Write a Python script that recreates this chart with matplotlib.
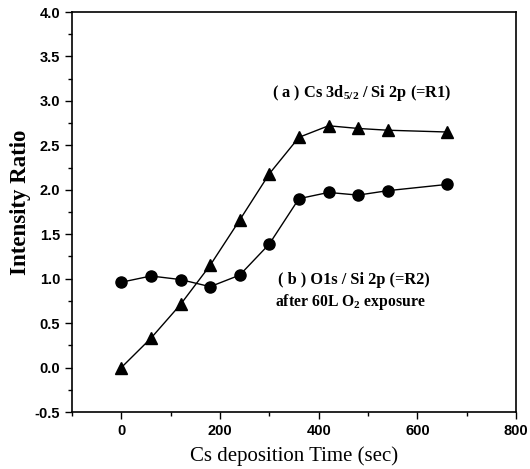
from matplotlib import pyplot as plt
from matplotlib.ticker import MultipleLocator, FormatStrFormatter

t = [0, 60, 120, 180, 240, 300, 360, 420, 480, 540, 660]
r1 = [0.0, 0.33, 0.71, 1.15, 1.66, 2.18, 2.59, 2.72, 2.69, 2.67, 2.65]
r2 = [0.96, 1.03, 0.99, 0.91, 1.04, 1.39, 1.90, 1.97, 1.94, 1.99, 2.06]

plt.rcParams['mathtext.fontset'] = 'custom'
plt.rcParams['mathtext.rm'] = 'Liberation Serif:bold'
plt.rcParams['mathtext.it'] = 'Liberation Serif:bold'
plt.rcParams['mathtext.bf'] = 'Liberation Serif:bold'

fig = plt.figure(figsize=(5.3, 4.69), dpi=100)
ax = fig.add_axes([72/530, 57/469, 444/530, 400/469])

ax.plot(t, r1, color='black', marker='^', markersize=9, linewidth=1)
ax.plot(t, r2, color='black', marker='o', markersize=8, linewidth=1)

ax.set_xlim(-100, 800)
ax.set_ylim(-0.5, 4.0)
ax.xaxis.set_major_locator(MultipleLocator(200))
ax.xaxis.set_minor_locator(MultipleLocator(100))
ax.yaxis.set_major_locator(MultipleLocator(0.5))
ax.yaxis.set_minor_locator(MultipleLocator(0.25))
ax.yaxis.set_major_formatter(FormatStrFormatter('%.1f'))
ax.tick_params(which='both', direction='out', width=1)
ax.tick_params(which='major', length=5)
ax.tick_params(which='minor', length=3)
for s in ax.spines.values():
    s.set_linewidth(1.2)

for lab in ax.get_xticklabels() + ax.get_yticklabels():
    lab.set_family('Liberation Sans')
    lab.set_fontweight('bold')
    lab.set_fontsize(10.5)

ax.set_xlabel('Cs deposition Time (sec)', family='Liberation Serif', fontsize=15, labelpad=6)
ax.set_ylabel('Intensity Ratio', family='Liberation Serif', fontweight='bold', fontsize=16.5,
              labelpad=3, y=0.525)

ax.text(306, 3.09, r'( a ) Cs 3d$_{5/2}$ / Si 2p (=R1)', family='Liberation Serif',
        fontweight='bold', fontsize=11.8, va='center')
ax.text(318, 0.99, '( b ) O1s / Si 2p (=R2)', family='Liberation Serif',
        fontweight='bold', fontsize=11.8, va='center')
ax.text(311, 0.74, r'after 60L O$_2$ exposure', family='Liberation Serif',
        fontweight='bold', fontsize=11.3, va='center')

plt.savefig('out.png', dpi=100)
